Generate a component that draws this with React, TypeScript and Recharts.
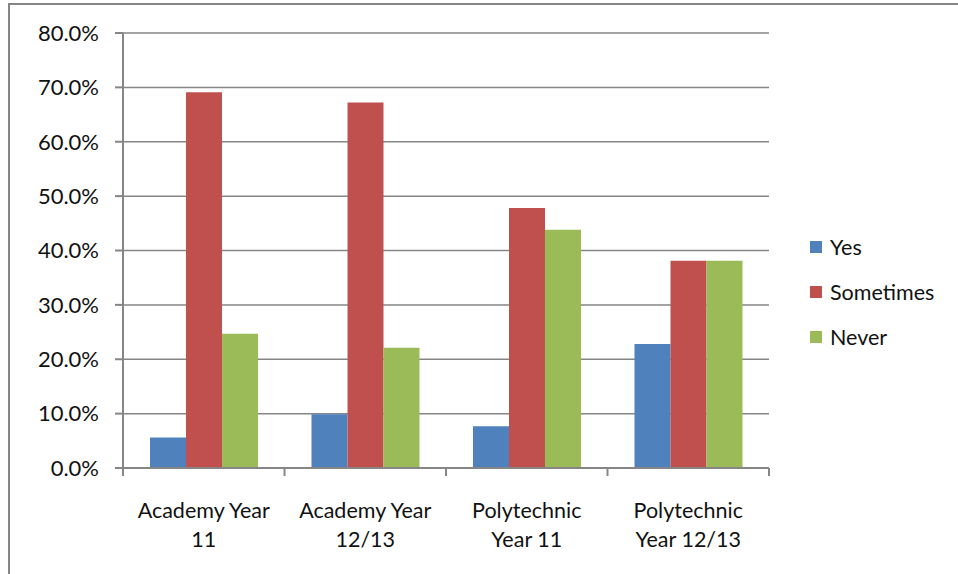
import { Bar, BarChart, CartesianGrid, XAxis, YAxis } from "recharts";

const categories = [
  "Academy Year 11",
  "Academy Year 12/13",
  "Polytechnic Year 11",
  "Polytechnic Year 12/13",
];
const categoryLines = [
  ["Academy Year", "11"],
  ["Academy Year", "12/13"],
  ["Polytechnic", "Year 11"],
  ["Polytechnic", "Year 12/13"],
];
const yesValues = [5.6, 9.9, 7.7, 22.8];
const sometimesValues = [69.1, 67.2, 47.8, 38.1];
const neverValues = [24.7, 22.1, 43.8, 38.1];
const yTicks = [0, 10, 20, 30, 40, 50, 60, 70, 80];

const SERIES = [
  { key: "yes", name: "Yes", color: "#4F81BD" },
  { key: "sometimes", name: "Sometimes", color: "#C0504D" },
  { key: "never", name: "Never", color: "#9BBB59" },
];

const FONT = "Lato, 'Open Sans', sans-serif";
const AXIS_GRAY = "#868686";
const TEXT = "#111";
const TICK_LEN = 8;

const data = categories.map((category, i) => ({
  category,
  yes: yesValues[i],
  sometimes: sometimesValues[i],
  never: neverValues[i],
}));

// category label in two lines plus the tick marks between categories
function CategoryTick(props: any) {
  const { x, y, payload, index } = props;
  const half = payload?.offset ?? 80.75;
  const lines = categoryLines[index] ?? [String(payload.value)];
  const last = index === categories.length - 1;
  const axisY = y - TICK_LEN;
  return (
    <g>
      <line x1={x - half} x2={x - half} y1={axisY} y2={axisY + TICK_LEN} stroke={AXIS_GRAY} strokeWidth={2} />
      {last && (
        <line x1={x + half} x2={x + half} y1={axisY} y2={axisY + TICK_LEN} stroke={AXIS_GRAY} strokeWidth={2} />
      )}
      {lines.map((line, i) => (
        <text
          key={i}
          x={x}
          y={axisY + 50 + i * 29}
          textAnchor="middle"
          fill={TEXT}
          fontSize={21.5}
          fontFamily={FONT}
        >
          {line}
        </text>
      ))}
    </g>
  );
}

function LegendList() {
  return (
    <div style={{ fontFamily: FONT, fontSize: 21.5, color: TEXT }}>
      {SERIES.map((s) => (
        <div
          key={s.key}
          style={{ display: "flex", alignItems: "center", height: 45 }}
        >
          <span
            style={{
              width: 12,
              height: 12,
              background: s.color,
              marginRight: 8,
              display: "inline-block",
            }}
          />
          <span>{s.name}</span>
        </div>
      ))}
    </div>
  );
}

export default function App() {
  return (
    <div
      style={{
        position: "fixed",
        left: 0,
        top: 0,
        width: 958,
        height: 574,
        overflow: "hidden",
        background: "#fff",
      }}
    >
      <div
        style={{
          position: "absolute",
          left: 8,
          top: 3,
          width: 2000,
          height: 2000,
          borderTop: `2px solid ${AXIS_GRAY}`,
          borderLeft: `2px solid ${AXIS_GRAY}`,
        }}
      />
      <div style={{ position: "absolute", left: 0, top: 0 }}>
        <BarChart
          width={958}
          height={574}
          data={data}
          margin={{ top: 33, right: 189, bottom: 0, left: 0 }}
          barCategoryGap={27}
          barGap={0}
        >
          <CartesianGrid
            vertical={false}
            stroke={AXIS_GRAY}
            strokeWidth={1.5}
          />
          <XAxis
            dataKey="category"
            axisLine={{ stroke: AXIS_GRAY, strokeWidth: 2 }}
            tickLine={false}
            tick={<CategoryTick />}
            interval={0}
            height={106}
          />
          <YAxis
            width={123}
            domain={[0, 80]}
            ticks={yTicks}
            interval={0}
            tickFormatter={(v: number) => `${v.toFixed(1)}%`}
            axisLine={{ stroke: AXIS_GRAY, strokeWidth: 2 }}
            tickLine={{ stroke: AXIS_GRAY, strokeWidth: 2 }}
            tickSize={8}
            tickMargin={16}
            tick={{ fill: TEXT, fontSize: 22, fontFamily: FONT }}
          />
          {SERIES.map((s) => (
            <Bar
              key={s.key}
              dataKey={s.key}
              name={s.name}
              fill={s.color}
              isAnimationActive={false}
            />
          ))}
        </BarChart>
      </div>
      <div style={{ position: "absolute", left: 810, top: 224 }}>
        <LegendList />
      </div>
    </div>
  );
}
